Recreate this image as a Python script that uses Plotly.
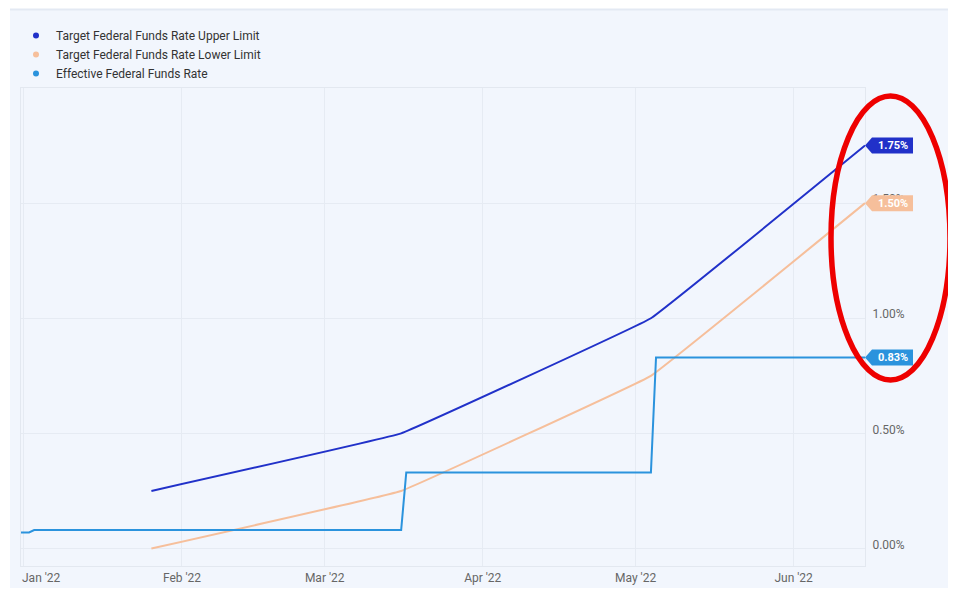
import plotly.graph_objects as go

# ---- data ----
fomc_dates = ["2022-01-26", "2022-03-16", "2022-05-04", "2022-06-15"]
upper_limit = [0.25, 0.50, 1.00, 1.75]
lower_limit = [0.00, 0.25, 0.75, 1.50]

effr_dates = ["2021-12-31", "2022-01-02", "2022-01-03", "2022-03-16",
              "2022-03-17", "2022-05-04", "2022-05-05", "2022-06-15"]
effr_values = [0.07, 0.07, 0.08, 0.08, 0.33, 0.33, 0.83, 0.83]

tick_dates = ["2022-01-01", "2022-02-01", "2022-03-01", "2022-04-01", "2022-05-01", "2022-06-01"]
tick_text = ["", "Feb '22", "Mar '22", "Apr '22", "May '22", "Jun '22"]
y_ticks = [0, 0.5, 1.0, 1.5]
y_tick_text = ["0.00%", "0.50%", "1.00%", "1.50%"]

names = ["Target Federal Funds Rate Upper Limit",
         "Target Federal Funds Rate Lower Limit",
         "Effective Federal Funds Rate"]
colors = ["#2131c9", "#f6bf9b", "#2b93dd"]

# ---- layout geometry (page has an 8px body margin on every side) ----
OFF = 8
W, H = 940, 580
ML, MR, MT, MB = 13, 83, 80, 22
PW, PH = W - ML - MR, H - MT - MB
Y_RANGE = [-0.076, 2.0]


def px_x(p):
    return (p - OFF - ML) / PW


def px_y(p):
    return (H - MB - (p - OFF)) / PH


def val_y(v):
    return (v - Y_RANGE[0]) / (Y_RANGE[1] - Y_RANGE[0])


fig = go.Figure()

fig.add_trace(go.Scatter(x=fomc_dates, y=upper_limit, mode="lines", name=names[0],
                         line=dict(color=colors[0], width=2, shape="spline", smoothing=0.15),
                         showlegend=False, hoverinfo="skip"))
fig.add_trace(go.Scatter(x=fomc_dates, y=lower_limit, mode="lines", name=names[1],
                         line=dict(color=colors[1], width=2, shape="spline", smoothing=0.15),
                         showlegend=False, hoverinfo="skip"))
fig.add_trace(go.Scatter(x=effr_dates, y=effr_values, mode="lines", name=names[2],
                         line=dict(color=colors[2], width=2),
                         showlegend=False, hoverinfo="skip"))

# legend entries shown as dots
for n, c in zip(names, colors):
    fig.add_trace(go.Scatter(x=[None], y=[None], mode="markers", name=n,
                             marker=dict(color=c, size=6), showlegend=True))

shapes = []
# panel background
shapes.append(dict(type="rect", xref="paper", yref="paper", layer="below",
                   x0=px_x(10), x1=px_x(951), y0=px_y(9), y1=px_y(600),
                   fillcolor="#f2f6fd", line=dict(width=0)))
shapes.append(dict(type="line", xref="paper", yref="paper", layer="below",
                   x0=px_x(10), x1=px_x(951), y0=px_y(9.5), y1=px_y(9.5),
                   line=dict(color="#e3e9f3", width=2)))

# end-value flags
last_vals = [upper_limit[-1], lower_limit[-1], effr_values[-1]]
annotations = []
for v, c in zip(last_vals, colors):
    shapes.append(dict(type="path", xref="paper", yref="paper",
                       xsizemode="pixel", ysizemode="pixel",
                       xanchor=1, yanchor=val_y(v),
                       path="M0,0 L7,8 L48,8 L48,-8 L7,-8 Z",
                       fillcolor=c, line=dict(width=0)))
    annotations.append(dict(xref="paper", yref="y", x=1, y=v, xanchor="center",
                            xshift=28, text=f"<b>{v:.2f}%</b>", showarrow=False,
                            font=dict(color="white", size=11, family="Roboto")))

# first month label (shifted right like the original)
annotations.append(dict(xref="x", yref="paper", x="2022-01-01", y=0, yanchor="top",
                        xanchor="center", xshift=18, yshift=-3, text="Jan '22",
                        showarrow=False, font=dict(color="#666666", size=12, family="Roboto")))

# red highlight ellipse
shapes.append(dict(type="circle", xref="paper", yref="paper",
                   x0=px_x(831), x1=px_x(950), y0=px_y(380), y1=px_y(96),
                   line=dict(color="#ee0000", width=5.5)))

fig.update_layout(
    width=W, height=H,
    autosize=False,
    margin=dict(l=ML, r=MR, t=MT, b=MB, autoexpand=False),
    paper_bgcolor="white",
    plot_bgcolor="rgba(0,0,0,0)",
    font=dict(family="Roboto", size=12, color="#666666"),
    showlegend=True,
    legend=dict(x=px_x(16), y=px_y(21), xanchor="left", yanchor="top",
                bgcolor="rgba(0,0,0,0)", font=dict(color="#333333", size=12, family="Roboto"),
                tracegroupgap=0),
    shapes=shapes,
    annotations=annotations,
    hovermode=False,
)

fig.update_xaxes(type="date", range=["2021-12-31 10:00", "2022-06-15"],
                 tickvals=tick_dates, ticktext=tick_text, automargin=False,
                 showgrid=True, gridcolor="#e6ebf3", gridwidth=1,
                 showline=True, linecolor="#e3e8f0", mirror=True,
                 zeroline=False, ticks="", ticklabelstandoff=1,
                 tickfont=dict(color="#666666", size=12))
fig.update_yaxes(range=Y_RANGE, side="right", tickvals=y_ticks, ticktext=y_tick_text,
                 automargin=False,
                 showgrid=True, gridcolor="#e6ebf3", gridwidth=1,
                 showline=True, linecolor="#e3e8f0", mirror=True,
                 zeroline=False, ticks="", ticklabelstandoff=4, ticklabelshift=-4,
                 tickfont=dict(color="#666666", size=12))

fig.write_html("out.html")
